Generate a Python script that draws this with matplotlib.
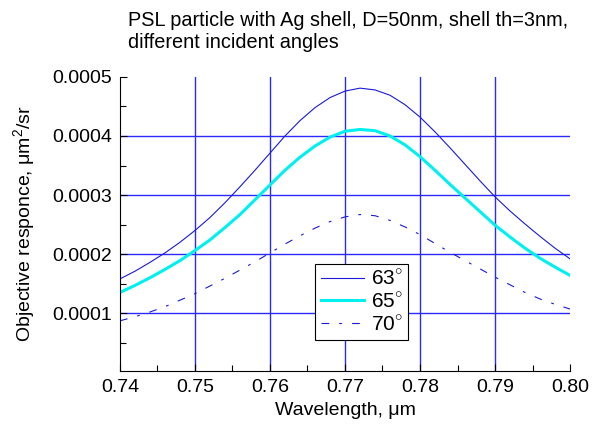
import numpy as np
import matplotlib.pyplot as plt
from matplotlib.ticker import MultipleLocator

plt.rcParams['font.family'] = ['Liberation Sans', 'DejaVu Sans']
plt.rcParams['mathtext.fontset'] = 'custom'
plt.rcParams['mathtext.rm'] = 'Liberation Sans'

wavelength = [0.740, 0.742, 0.744, 0.746, 0.748, 0.750, 0.752, 0.754, 0.756, 0.758,
              0.760, 0.762, 0.764, 0.766, 0.768, 0.770, 0.772, 0.774, 0.776, 0.778,
              0.780, 0.782, 0.784, 0.786, 0.788, 0.790, 0.792, 0.794, 0.796, 0.798,
              0.800]

# response in units of 1e-6 um^2/sr
resp63 = [158, 171, 186, 202, 220, 240, 262, 287, 314, 342,
          371, 400, 426, 448, 465, 476, 481, 478, 469, 453,
          432, 407, 380, 352, 324, 297, 273, 251, 230, 210, 192]
resp65 = [135, 147, 160, 174, 189, 206, 224, 245, 267, 292,
          317, 342, 364, 383, 398, 408, 411, 409, 400, 385,
          365, 342, 318, 295, 272, 249, 229, 210, 193, 178, 164]
resp70 = [87, 94, 102, 111, 122, 133, 146, 159, 173, 187,
          202, 217, 231, 244, 255, 263, 267, 265, 257, 246,
          233, 218, 203, 189, 175, 161, 148, 135, 124, 115, 107]

labels = ['63$^{\\circ}$', '65$^{\\circ}$', '70$^{\\circ}$']

x = np.array(wavelength)
fig = plt.figure(figsize=(5.99, 4.25), dpi=100)
ax = fig.add_axes([0.2003, 0.127, 0.7513, 0.692])

ax.plot(x, np.array(resp63) * 1e-6, color='#1a1ad8', lw=0.8, label=labels[0])
ax.plot(x, np.array(resp65) * 1e-6, color='#00f0f0', lw=2.2, label=labels[1])
ax.plot(x, np.array(resp70) * 1e-6, color='#1a1ad8', lw=0.8,
        dashes=(7, 9, 2.5, 9), label=labels[2])

ax.set_xlim(0.74, 0.80)
ax.set_ylim(0.000002, 0.0005)
ax.set_xticks([0.74, 0.75, 0.76, 0.77, 0.78, 0.79, 0.80])
ax.set_xticklabels(['0.74', '0.75', '0.76', '0.77', '0.78', '0.79', '0.80'])
ax.set_yticks([0.0001, 0.0002, 0.0003, 0.0004, 0.0005])
ax.set_yticklabels(['0.0001', '0.0002', '0.0003', '0.0004', '0.0005'])
ax.xaxis.set_minor_locator(MultipleLocator(0.005))
ax.yaxis.set_minor_locator(MultipleLocator(0.00005))
ax.tick_params(which='major', direction='in', length=5, labelsize=14, width=0.8, pad=6)
ax.tick_params(which='minor', direction='in', length=4, width=0.8)

# grid at interior major ticks only
for gx in [0.75, 0.76, 0.77, 0.78, 0.79]:
    ax.axvline(gx, color='#2a2aff', lw=1.0, zorder=0)
for gy in [0.0001, 0.0002, 0.0003, 0.0004]:
    ax.axhline(gy, color='#2a2aff', lw=1.0, zorder=0)

ax.spines['top'].set_visible(False)
ax.spines['right'].set_visible(False)

ax.set_xlabel('Wavelength, \u03bcm', fontsize=14, labelpad=4)
ax.set_ylabel('Objective responce, \u03bcm$^2$/sr', fontsize=14, labelpad=10)

fig.text(0.2137, 0.975, 'PSL particle with Ag shell, D=50nm, shell th=3nm,\ndifferent incident angles',
         fontsize=14.3, va='top', ha='left', linespacing=1.2)

leg = ax.legend(loc='center', bbox_to_anchor=(0.537, 0.235), fontsize=15,
                frameon=True, fancybox=False, edgecolor='black', framealpha=1,
                handlelength=2.1, handletextpad=0.3, labelspacing=0.15,
                borderpad=0.25, borderaxespad=0)
leg.get_frame().set_linewidth(0.8)

fig.savefig('out.png', dpi=100)
